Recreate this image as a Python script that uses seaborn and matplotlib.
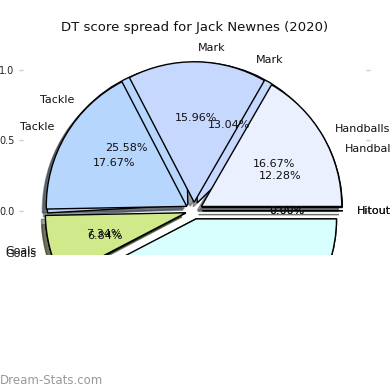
import matplotlib
matplotlib.use("Agg")
import matplotlib.pyplot as plt
import seaborn as sns

sns.set_theme(style="white")
plt.rcParams['font.family'] = ['DejaVu Sans']

categories = ["Handballs", "Mark", "Tackle", "Goals", "Kicks", "Hitout"]
career_share = [12.28, 13.04, 25.58, 6.84, 42.26, 0.00]
season_2020_share = [16.67, 15.96, 17.67, 7.34, 42.36, 0.00]
colors = ["#eaf0fe", "#c6d8fe", "#b6d6fe", "#d0ea8b", "#d8fefe", "#e0e0e0"]
explode = [0.06] * len(categories)
title = "DT score spread for Jack Newnes (2020)"

fig = plt.figure(figsize=(3.9, 3.9), dpi=100)
W = H = 390.0
left_px, right_px, top_px, bottom_px = 23, 366, 39.3, 255
ax = fig.add_axes([left_px / W, 1 - bottom_px / H, (right_px - left_px) / W, (bottom_px - top_px) / H])

all_texts = []
for vals in (career_share, season_2020_share):
    wedges, texts, autotexts = ax.pie(
        vals, labels=categories, colors=colors, explode=explode, shadow=True,
        autopct="%1.2f%%", startangle=0, frame=True,
        wedgeprops=dict(edgecolor="black", linewidth=1.0),
        textprops=dict(fontsize=8, color="#111111"),
    )
    all_texts += list(texts) + list(autotexts)

xl = (-(194 - left_px) / 140.5, (right_px - 194) / 140.5)
yl = (-(bottom_px - 210.7) / 140.5, (210.7 - top_px) / 140.5)
ax.set_xlim(*xl)
ax.set_ylim(*yl)
ax.set_aspect('auto')
for p in ax.patches:
    p.set_clip_on(True)
    p.set_clip_path(ax.patch)
for t in all_texts:
    if t.get_position()[1] < yl[0] or t.get_position()[1] > yl[1]:
        t.set_visible(False)

ax.set_xticks([])
ax.set_yticks([0.0, 0.5, 1.0])
ax.set_yticklabels(["0.0", "0.5", "1.0"])
ax.tick_params(axis='y', left=True, right=True, length=3, width=1, color="#cccccc",
               labelsize=7, labelcolor="#222222", pad=3)
for s in ax.spines.values():
    s.set_visible(False)
ax.set_title(title, fontsize=9.5, color="#111111")

fig.text(0.0, 3 / H, "Dream-Stats.com", fontsize=8.5, color="#999999", ha="left", va="bottom")

fig.savefig("out.png", dpi=100)
